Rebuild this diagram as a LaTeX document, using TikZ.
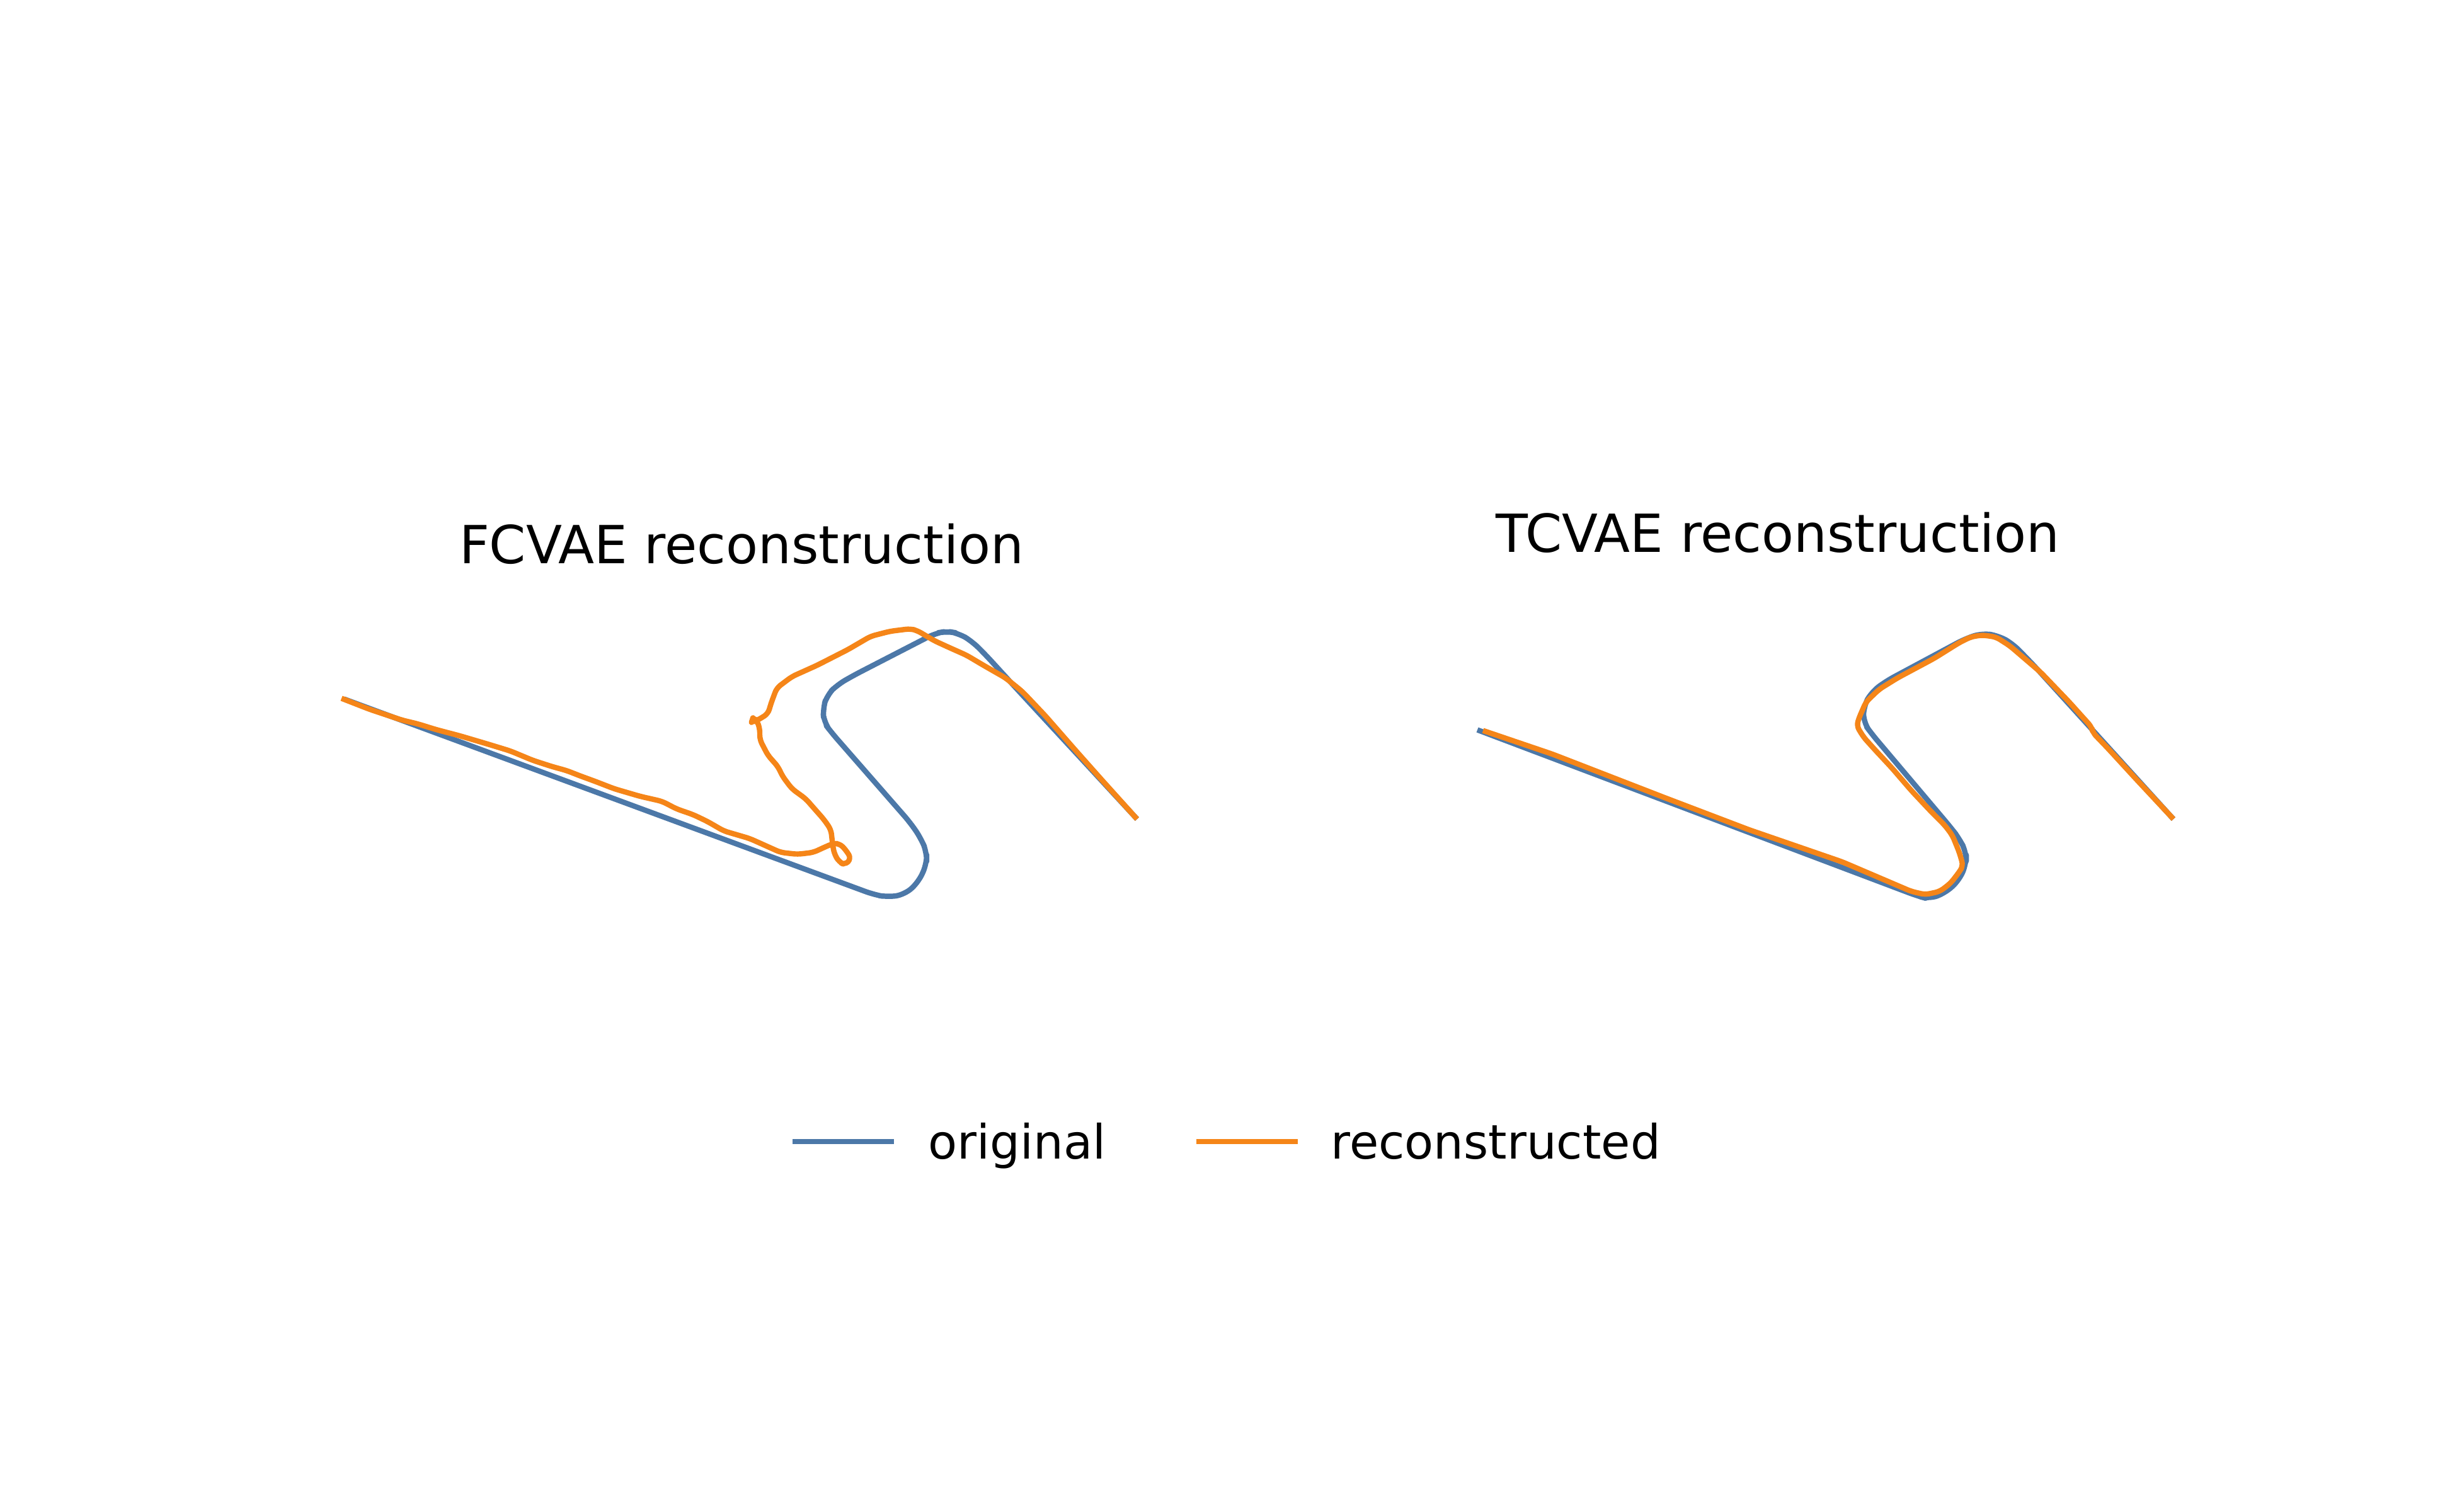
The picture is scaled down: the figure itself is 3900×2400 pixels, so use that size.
\documentclass[tikz,border=0pt]{standalone}
\usepackage{fontspec}
\setmainfont{DejaVu Sans}
\definecolor{origblue}{HTML}{4C78A8}
\definecolor{recorange}{HTML}{F58518}
\tikzset{
  curve/.style={line width=2.4pt, line join=round, line cap=rect},
  origline/.style={curve, draw=origblue, rounded corners=4pt},
  recline/.style={curve, draw=recorange, rounded corners=2pt},
  titletext/.style={anchor=base, inner sep=0pt, font=\fontsize{23.7}{28}\selectfont},
  legtext/.style={anchor=base west, inner sep=0pt, font=\fontsize{21.4}{26}\selectfont},
}
\begin{document}
\begin{tikzpicture}[x=0.01cm, y=-0.01cm]
\useasboundingbox (0,0) rectangle (3900,2400);
\fill[white] (0,0) rectangle (3900,2400);

% ---------- titles ----------
\node[titletext] (t1) at (1177,894) {FCVAE reconstruction};
\node[titletext] (t2) at (2822,876) {TCVAE reconstruction};

% ---------- left panel: original ----------
\draw[origline] (550,1111) -- (1387,1420) -- (1409,1424) -- (1436,1420) -- (1458,1400)
  -- (1471,1371) -- (1471,1353) -- (1462,1331) -- (1445,1306)
  -- (1320,1163) -- (1308,1147) -- (1306,1125) -- (1313,1103) -- (1329,1087) -- (1355,1072)
  -- (1485,1005) -- (1503,1002) -- (1521,1005) -- (1543,1018) -- (1565,1040) -- (1596,1074)
  -- (1802,1297);

% ---------- left panel: reconstructed ----------
\draw[recline] (546,1110) -- (587,1126) -- (614,1135) -- (638,1143) -- (663,1149) -- (692,1158)
  -- (730,1168) -- (774,1181) -- (810,1192) -- (846,1207) -- (877,1217) -- (899,1223)
  -- (922,1232) -- (944,1240) -- (975,1252) -- (1016,1264) -- (1051,1272) -- (1074,1284)
  -- (1100,1293) -- (1123,1304) -- (1149,1319) -- (1190,1331) -- (1239,1353) -- (1266,1356)
  -- (1291,1353) -- (1306,1346) -- (1322,1339) -- (1333,1339) -- (1344,1351) -- (1351,1363)
  -- (1341,1373) -- (1332,1368) -- (1325,1357) -- (1322,1344) -- (1319,1317) -- (1308,1301)
  -- (1293,1284) -- (1279,1268) -- (1257,1252) -- (1242,1232) -- (1235,1217) -- (1219,1199)
  -- (1206,1174) -- (1206,1156) -- (1201,1143) -- (1195,1140) -- (1193,1146) -- (1201,1144)
  -- (1219,1133) -- (1224,1116) -- (1233,1092) -- (1257,1074) -- (1297,1056) -- (1346,1031)
  -- (1382,1010) -- (1413,1002) -- (1445,998) -- (1456,1001) -- (1483,1017) -- (1507,1028)
  -- (1534,1040) -- (1561,1056) -- (1596,1076) -- (1623,1098) -- (1659,1136) -- (1708,1192)
  -- (1748,1237) -- (1802,1297);

% ---------- right panel: original ----------
\draw[origline] (2349,1160) -- (3043,1422) -- (3061,1427) -- (3087,1418) -- (3110,1397)
  -- (3121,1371) -- (3121,1353) -- (3110,1331) -- (3096,1313)
  -- (2971,1165) -- (2958,1147) -- (2958,1121) -- (2971,1098) -- (2994,1081)
  -- (3119,1014) -- (3146,1005) -- (3172,1009) -- (3195,1022) -- (3230,1058)
  -- (3447,1297);

% ---------- right panel: reconstructed ----------
\draw[recline] (2358,1161) -- (2464,1197) -- (2642,1266) -- (2776,1317) -- (2924,1368)
  -- (3034,1415) -- (3056,1420) -- (3079,1415) -- (3096,1402) -- (3110,1384) -- (3116,1374)
  -- (3110,1353) -- (3099,1326) -- (3087,1310) -- (3065,1288) -- (3034,1255) -- (3003,1219)
  -- (2976,1190) -- (2958,1170) -- (2947,1152) -- (2951,1139) -- (2962,1114) -- (2983,1094)
  -- (3012,1076) -- (3070,1045) -- (3110,1020) -- (3128,1011) -- (3146,1008) -- (3168,1011)
  -- (3190,1025) -- (3239,1067) -- (3284,1114) -- (3320,1154) -- (3322,1163) -- (3346,1188)
  -- (3391,1237) -- (3447,1297);

% ---------- legend ----------
\coordinate (lb1) at (1262,1812);
\coordinate (lb2) at (1415,1812);
\coordinate (lo1) at (1903,1812);
\coordinate (lo2) at (2056,1812);
\draw[origline] (lb1) -- (lb2);
\draw[recline] (lo1) -- (lo2);
\node[legtext] (l1) at (1473,1839) {original};
\node[legtext] (l2) at (2112,1839) {reconstructed};
\end{tikzpicture}
\end{document}
